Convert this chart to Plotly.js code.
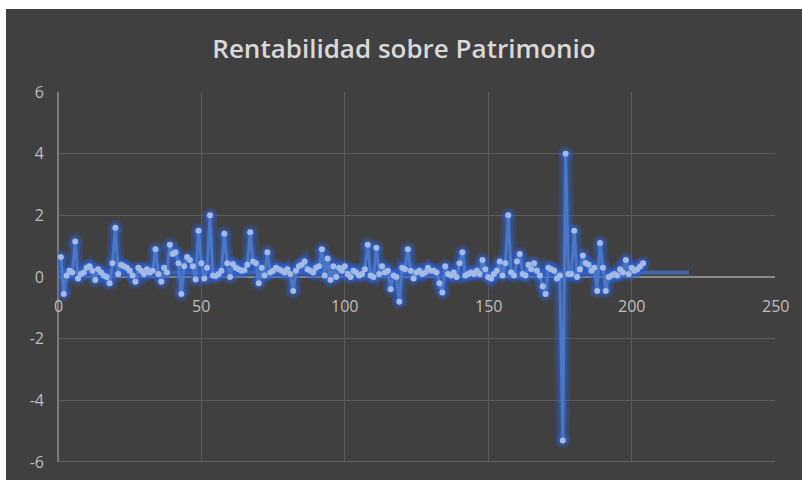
<!DOCTYPE html>
<html>
<head>
<meta charset="utf-8">
<script src="https://cdn.plot.ly/plotly-3.0.1.min.js"></script>
<style>
  html, body { margin: 0; padding: 0; background: #ffffff; }
  #chart { position: absolute; left: 6px; top: 9px; width: 796px; height: 471px; }
</style>
</head>
<body>
<div id="chart"></div>
<script>
// Rentabilidad sobre Patrimonio (ROE) per period
const roe = [
  0.65, -0.55, 0.05, 0.2, 0.15, 1.15, -0.05, 0.1, 0.15, 0.3,
  0.35, 0.2, -0.1, 0.25, 0.15, 0.05, 0.0, -0.2, 0.45, 1.6,
  0.1, 0.4, 0.35, 0.3, 0.2, 0.05, -0.15, 0.3, 0.2, 0.1,
  0.25, 0.15, 0.2, 0.9, 0.1, -0.15, 0.3, 0.15, 1.05, 0.75,
  0.8, 0.45, -0.55, 0.35, 0.65, 0.55, 0.35, -0.08, 1.5, 0.45,
  -0.05, 0.3, 2.0, 0.05, 0.03, 0.1, 0.2, 1.4, 0.45, 0.0,
  0.42, 0.3, 0.25, 0.2, 0.22, 0.4, 1.45, 0.5, 0.45, -0.2,
  0.3, 0.05, 0.8, 0.15, 0.2, 0.3, 0.25, 0.2, 0.15, 0.25,
  0.1, -0.45, 0.2, 0.35, 0.4, 0.5, 0.25, 0.2, 0.15, 0.3,
  0.35, 0.9, 0.05, 0.6, -0.1, 0.35, 0.0, 0.3, 0.2, 0.35,
  0.1, 0.0, 0.2, 0.15, 0.05, 0.1, 0.25, 1.05, 0.05, 0.0,
  0.95, 0.1, 0.35, 0.15, 0.2, -0.4, 0.05, 0.0, -0.8, 0.3,
  0.25, 0.9, 0.2, -0.05, 0.15, 0.2, 0.1, 0.15, 0.3, 0.2,
  0.2, 0.15, -0.2, -0.5, 0.35, 0.1, 0.05, 0.15, 0.0, 0.45,
  0.8, 0.05, 0.1, 0.15, 0.1, 0.2, 0.1, 0.55, 0.25, 0.0,
  -0.05, 0.1, 0.2, 0.5, 0.05, 0.45, 2.0, 0.15, 0.05, 0.5,
  0.75, 0.1, 0.05, 0.4, 0.25, 0.45, 0.2, 0.05, -0.3, -0.55,
  0.3, 0.25, 0.2, -0.05, 0.05, -5.3, 4.0, 0.1, 0.1, 1.5,
  0.0, 0.25, 0.7, 0.45, 0.4, 0.2, 0.3, -0.45, 1.1, 0.3,
  -0.45, 0.0, 0.05, 0.1, 0.05, 0.25, 0.15, 0.55, 0.1, 0.3,
  0.2, 0.25, 0.35, 0.45
];
const periodo = roe.map((v, i) => i + 1);

// flat reference line seen behind the series
const promedioX = [0, 220];
const promedioY = [0.15, 0.15];

const xTicks = [0, 50, 100, 150, 200, 250];
const yTicks = [-6, -4, -2, 0, 2, 4, 6];

const labelColor = '#bfbfbf';
const fontFamily = '"Open Sans", "Noto Sans", sans-serif';

const traces = [
  { x: promedioX, y: promedioY, type: 'scatter', mode: 'lines',
    line: { color: 'rgba(68,114,196,0.75)', width: 4 }, hoverinfo: 'skip' },
  { x: periodo, y: roe, type: 'scatter', mode: 'lines+markers',
    line: { color: 'rgba(45,95,215,0.22)', width: 14 },
    marker: { color: 'rgba(45,95,215,0.22)', size: 16 }, hoverinfo: 'skip' },
  { x: periodo, y: roe, type: 'scatter', mode: 'lines+markers',
    line: { color: 'rgba(50,100,215,0.35)', width: 8 },
    marker: { color: 'rgba(50,100,215,0.35)', size: 11 }, hoverinfo: 'skip' },
  { x: periodo, y: roe, type: 'scatter', mode: 'lines+markers',
    line: { color: '#4a78c8', width: 3 },
    marker: { color: '#a4bbe6', size: 6 } }
];

const annotations = xTicks.map(t => ({
  x: t, y: 0, xref: 'x', yref: 'y', text: String(t), showarrow: false,
  yanchor: 'top', xanchor: 'center', yshift: -16,
  font: { family: fontFamily, size: 16, color: labelColor }
}));

const layout = {
  width: 796, height: 471,
  paper_bgcolor: '#404040', plot_bgcolor: '#404040',
  margin: { l: 52, r: 27, t: 83, b: 18 },
  showlegend: false,
  title: { text: 'Rentabilidad sobre Patrimonio', x: 0.5, xanchor: 'center',
           y: 0.915, yanchor: 'middle',
           font: { family: fontFamily, size: 26, color: '#d9d9d9', weight: 600 } },
  xaxis: { range: [0, 250], tickvals: xTicks, showticklabels: false,
           showgrid: true, gridcolor: '#5c5c5c', gridwidth: 1,
           zeroline: true, zerolinecolor: '#7a7a7a', zerolinewidth: 1.5,
           showline: false, fixedrange: true },
  yaxis: { range: [-6, 6], tickvals: yTicks, ticktext: yTicks.map(String),
           showgrid: true, gridcolor: '#5c5c5c', gridwidth: 1,
           zeroline: true, zerolinecolor: '#8a8a8a', zerolinewidth: 1.5,
           showline: false, ticks: '', ticklabelstandoff: 13,
           tickfont: { family: fontFamily, size: 16, color: labelColor },
           fixedrange: true },
  shapes: [
    { type: 'line', xref: 'x', yref: 'y', x0: 0, x1: 250, y0: -6, y1: -6,
      line: { color: '#6e6e6e', width: 1.5 } }
  ],
  annotations: annotations
};

Plotly.newPlot('chart', traces, layout, { displayModeBar: false, staticPlot: true });
</script>
</body>
</html>
